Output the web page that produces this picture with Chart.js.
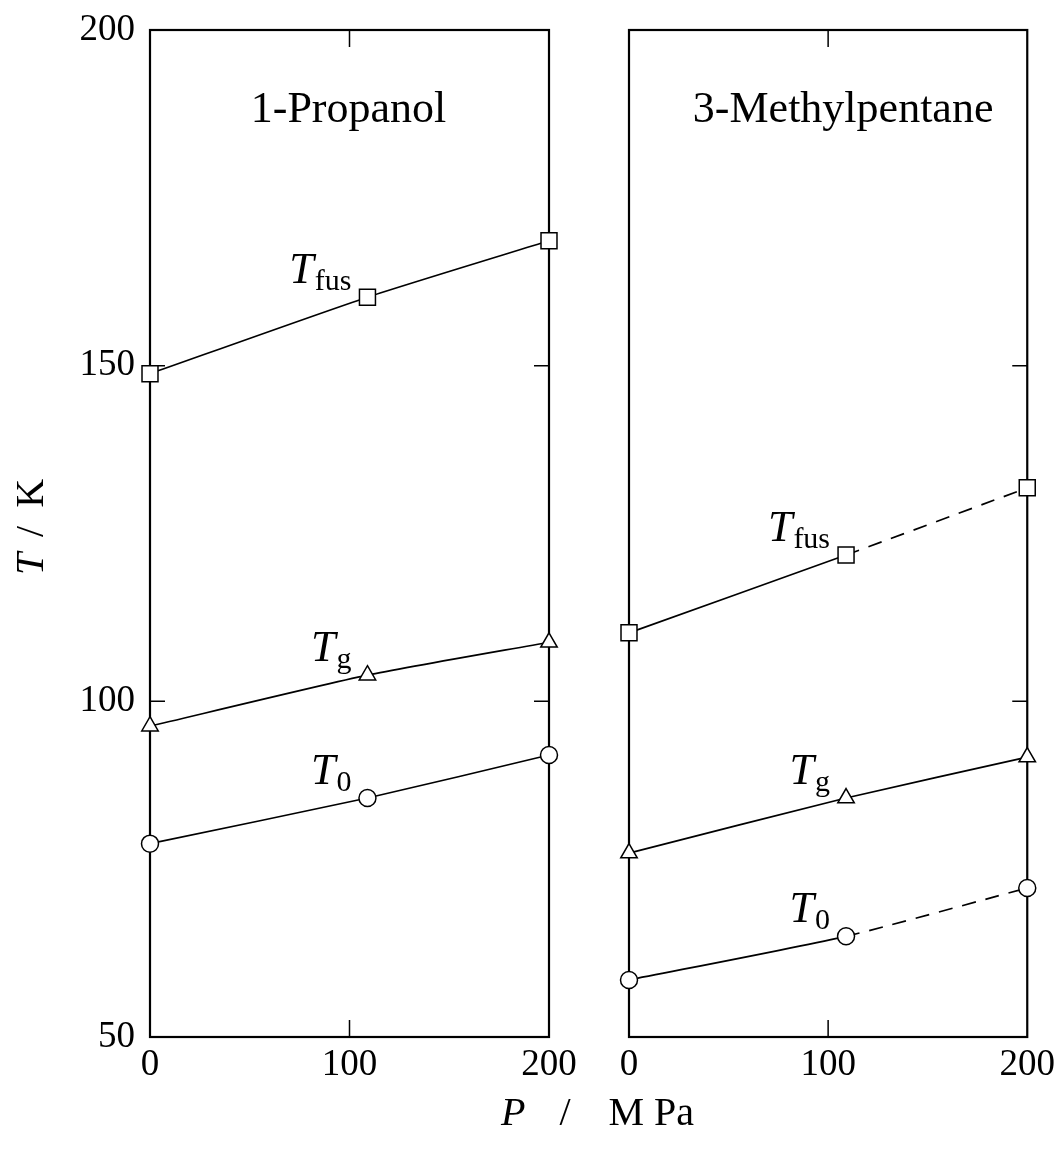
<!DOCTYPE html>
<html>
<head>
<meta charset="utf-8">
<title>Transition temperatures under pressure</title>
<script src="https://cdn.jsdelivr.net/npm/chart.js@4/dist/chart.umd.min.js"></script>
<style>
  html, body { margin: 0; padding: 0; background: #fff; }
  #wrap { position: relative; width: 1057px; height: 1162px; }
  #wrap canvas { position: absolute; left: 0; top: 0; }
</style>
</head>
<body>
<div id="wrap">
  <canvas id="propanol" width="1057" height="1162"></canvas>
  <canvas id="methylpentane" width="1057" height="1162"></canvas>
</div>
<script>
// Pressure (MPa) at which each temperature was measured
const pressureMPa = [0, 109, 200];
// Axis ticks
const pressureTicks = [0, 100, 200];
const temperatureTicks = [50, 100, 150, 200];

// 1-Propanol (K)
const propanolTfus = [148.8, 160.2, 168.6];
const propanolTg = [96.3, 103.9, 108.8];
const propanolT0 = [78.8, 85.6, 92.0];

// 3-Methylpentane (K)
const methylpentaneTfus = [110.2, 121.8, 131.8];
const methylpentaneTg = [77.4, 85.6, 91.7];
const methylpentaneT0 = [58.5, 65.0, 72.2];

const SERIF = "'Liberation Serif', 'Times New Roman', Times, serif";
const CANVAS_W = 1057, CANVAS_H = 1162;

function toPoints(values) {
  return values.map((v, i) => ({ x: pressureMPa[i], y: v }));
}

// Draw a run of text pieces with individual fonts and baseline shifts
function drawRuns(ctx, runs, x, y, align) {
  let total = 0;
  runs.forEach(r => { ctx.font = r.font; r.w = ctx.measureText(r.text).width + (r.gap || 0); total += r.w; });
  let cx = align === 'right' ? x - total : align === 'center' ? x - total / 2 : x;
  runs.forEach(r => {
    ctx.font = r.font;
    ctx.fillText(r.text, cx + (r.pre || 0), y + (r.dy || 0));
    cx += r.w;
  });
}

function series(values, sub, marker, radius, dashedLast) {
  return {
    data: toPoints(values),
    sub: sub,
    borderColor: '#000',
    borderWidth: 1.7,
    tension: 0.2,
    pointStyle: marker,
    pointRadius: radius,
    pointHoverRadius: radius,
    pointBackgroundColor: '#fff',
    pointBorderColor: '#000',
    pointBorderWidth: 1.5,
    clip: false,
    fill: false,
    segment: dashedLast ? {
      borderDash: c => (c.p0DataIndex === 1 ? [14, 10] : undefined)
    } : undefined
  };
}

// Box frame with inward tick marks
const framePlugin = {
  id: 'frame',
  beforeDatasetsDraw(chart, args, opts) {
    const { ctx, chartArea: a, scales: { x, y } } = chart;
    ctx.save();
    ctx.strokeStyle = '#000';
    ctx.lineWidth = 2.2;
    ctx.strokeRect(a.left, a.top, a.width, a.height);
    ctx.lineWidth = 1.5;
    ctx.beginPath();
    pressureTicks.slice(1, -1).forEach(v => {
      const px = x.getPixelForValue(v);
      ctx.moveTo(px, a.bottom); ctx.lineTo(px, a.bottom - 17);
      ctx.moveTo(px, a.top); ctx.lineTo(px, a.top + 17);
    });
    temperatureTicks.slice(1, -1).forEach(v => {
      const py = y.getPixelForValue(v);
      if (opts.leftTicks) { ctx.moveTo(a.left, py); ctx.lineTo(a.left + 15, py); }
      ctx.moveTo(a.right, py); ctx.lineTo(a.right - 15, py);
    });
    ctx.stroke();
    ctx.restore();
  }
};

// Series names beside the middle point, and the panel title
const labelPlugin = {
  id: 'seriesLabels',
  afterDatasetsDraw(chart, args, opts) {
    const { ctx, chartArea: a } = chart;
    ctx.save();
    ctx.fillStyle = '#000';
    ctx.textBaseline = 'alphabetic';
    chart.data.datasets.forEach((ds, i) => {
      const pt = chart.getDatasetMeta(i).data[1];
      drawRuns(ctx, [
        { text: 'T', font: 'italic 44px ' + SERIF },
        { text: ds.sub, font: '30px ' + SERIF, dy: 7, pre: 1, gap: 1 }
      ], pt.x - 16, pt.y - 14, 'right');
    });
    ctx.font = '44px ' + SERIF;
    ctx.textAlign = 'center';
    ctx.fillText(opts.title, (a.left + a.right) / 2 + opts.dx, a.top + 92);
    ctx.restore();
  }
};

// Shared axis titles
const axisTitlePlugin = {
  id: 'axisTitles',
  afterDraw(chart) {
    const { ctx } = chart;
    ctx.save();
    ctx.fillStyle = '#000';
    ctx.textBaseline = 'alphabetic';
    ctx.textAlign = 'left';
    // vertical title
    ctx.translate(43, 527);
    ctx.rotate(-Math.PI / 2);
    drawRuns(ctx, [
      { text: 'T', font: 'italic 40px ' + SERIF, gap: 16 },
      { text: '/', font: '40px ' + SERIF, gap: 18 },
      { text: 'K', font: '40px ' + SERIF }
    ], 0, 0, 'center');
    ctx.setTransform(1, 0, 0, 1, 0, 0);
    // horizontal title
    drawRuns(ctx, [
      { text: 'P', font: 'italic 40px ' + SERIF, gap: 34 },
      { text: '/', font: '40px ' + SERIF, gap: 38 },
      { text: 'M', font: '40px ' + SERIF, gap: 10 },
      { text: 'Pa', font: '40px ' + SERIF }
    ], 501, 1125, 'left');
    ctx.restore();
  }
};

function panelOptions(cfg) {
  return {
    responsive: false,
    animation: false,
    devicePixelRatio: 1,
    events: [],
    layout: { padding: { top: cfg.top, right: cfg.right, left: 0, bottom: 0 } },
    plugins: {
      legend: { display: false },
      tooltip: { enabled: false },
      frame: { leftTicks: cfg.leftTicks },
      seriesLabels: { title: cfg.title, dx: cfg.titleDx }
    },
    scales: {
      x: {
        type: 'linear',
        min: 0, max: 200,
        afterBuildTicks: s => { s.ticks = pressureTicks.map(v => ({ value: v })); },
        afterFit: s => { s.height = CANVAS_H - cfg.bottom; },
        grid: { display: false, drawTicks: true, tickLength: 4 },
        border: { display: false },
        ticks: { color: '#000', font: { family: SERIF, size: 37 }, padding: 2, maxRotation: 0 }
      },
      y: {
        type: 'linear',
        min: 50, max: 200,
        afterBuildTicks: s => { s.ticks = temperatureTicks.map(v => ({ value: v })); },
        afterFit: s => { s.width = cfg.left; },
        grid: { display: false, drawTicks: true, tickLength: 8 },
        border: { display: false },
        ticks: { display: cfg.yLabels, color: '#000', font: { family: SERIF, size: 37 }, padding: 7 }
      }
    }
  };
}

new Chart(document.getElementById('propanol'), {
  type: 'line',
  data: {
    datasets: [
      series(propanolTfus, 'fus', 'rect', 11.3, false),
      series(propanolTg, 'g', 'triangle', 9.5, false),
      series(propanolT0, '0', 'circle', 8.5, false)
    ]
  },
  options: panelOptions({ left: 150, right: CANVAS_W - 549, top: 30, bottom: 1037,
    leftTicks: true, yLabels: true, title: '1-Propanol', titleDx: -1 }),
  plugins: [framePlugin, labelPlugin, axisTitlePlugin]
});

new Chart(document.getElementById('methylpentane'), {
  type: 'line',
  data: {
    datasets: [
      series(methylpentaneTfus, 'fus', 'rect', 11.3, true),
      series(methylpentaneTg, 'g', 'triangle', 9.5, false),
      series(methylpentaneT0, '0', 'circle', 8.5, true)
    ]
  },
  options: panelOptions({ left: 629, right: CANVAS_W - 1028, top: 30, bottom: 1037,
    leftTicks: false, yLabels: false, title: '3-Methylpentane', titleDx: 15 }),
  plugins: [framePlugin, labelPlugin]
});
</script>
</body>
</html>
